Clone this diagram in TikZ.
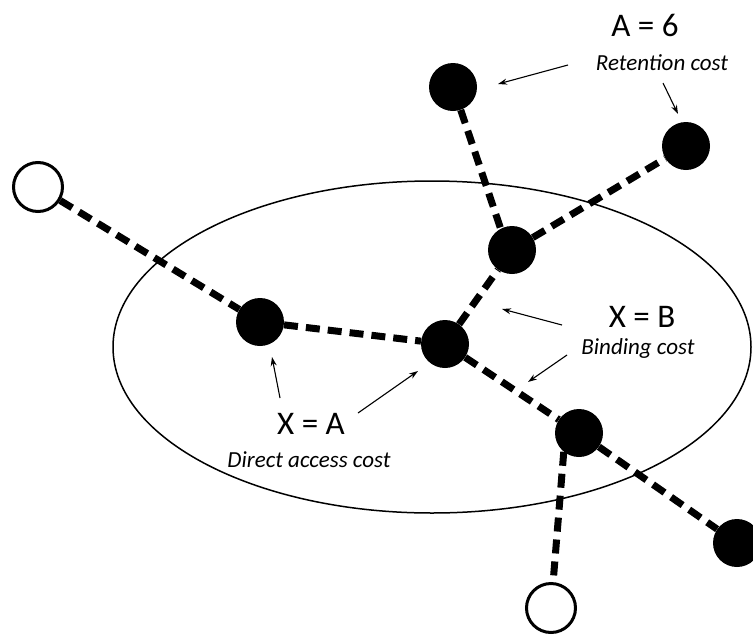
\documentclass[tikz,border=0pt]{standalone}
\usepackage{fontspec}
\setmainfont{Carlito}
\usetikzlibrary{arrows.meta,backgrounds}
\begin{document}
\begin{tikzpicture}[x=1pt,y=-1pt,
  full/.style={circle,fill=black,draw=none,minimum size=48pt,inner sep=0pt},
  open/.style={circle,fill=white,draw=black,line width=3pt,minimum size=49pt,inner sep=0pt},
  link/.style={line width=7pt,dash pattern=on 14pt off 8pt},
  pointer/.style={line width=1.1pt,-{Stealth[length=9pt,width=6pt]}},
  big/.style={font=\fontsize{33}{36}\selectfont},
  small/.style={font=\fontsize{23}{26}\selectfont\itshape}]
\useasboundingbox (0,0) rectangle (753,635);
% nodes
\node[open] (o1) at (38,187) {};
\node[full] (L) at (260,322) {};
\node[full] (C) at (445,344) {};
\node[full] (M) at (512,250) {};
\node[full] (T1) at (453,87) {};
\node[full] (T2) at (686,146) {};
\node[full] (R) at (579,433) {};
\node[full] (FR) at (737,543) {};
\node[open] (o2) at (551,608) {};
% ellipse and links under the nodes
\begin{scope}[on background layer]
\draw[line width=1.5pt] (432,347) ellipse [x radius=319, y radius=166];
\draw[link] (o1) -- (L);
\draw[link] (L) -- (C);
\draw[link] (C) -- (M);
\draw[link] (T1) -- (M.118);
\draw[link] (M) -- (T2);
\draw[link] (C) -- (R);
\draw[link] (R) -- (FR);
\draw[link] (R.231) -- (o2);
\end{scope}
% labels
\node[big] (A6) at (645,25) {A = 6};
\node[small] (ret) at (662,63) {Retention cost};
\node[big] (XB) at (642,317) {X = B};
\node[small] (bind) at (638,348) {Binding cost};
\node[big] (XA) at (311,424) {X = A};
\node[small] (dir) at (309,460) {Direct access cost};
% pointers
\coordinate (a1s) at (568,65); \coordinate (a1e) at (498,84);
\coordinate (a2s) at (663,83); \coordinate (a2e) at (678,114);
\coordinate (a3s) at (562,325); \coordinate (a3e) at (502,309);
\coordinate (a4s) at (567,355); \coordinate (a4e) at (528,382);
\coordinate (a5s) at (280,398); \coordinate (a5e) at (272,357);
\coordinate (a6s) at (358,413); \coordinate (a6e) at (418,371);
\draw[pointer] (a1s) -- (a1e);
\draw[pointer] (a2s) -- (a2e);
\draw[pointer] (a3s) -- (a3e);
\draw[pointer] (a4s) -- (a4e);
\draw[pointer] (a5s) -- (a5e);
\draw[pointer] (a6s) -- (a6e);
\end{tikzpicture}
\end{document}
